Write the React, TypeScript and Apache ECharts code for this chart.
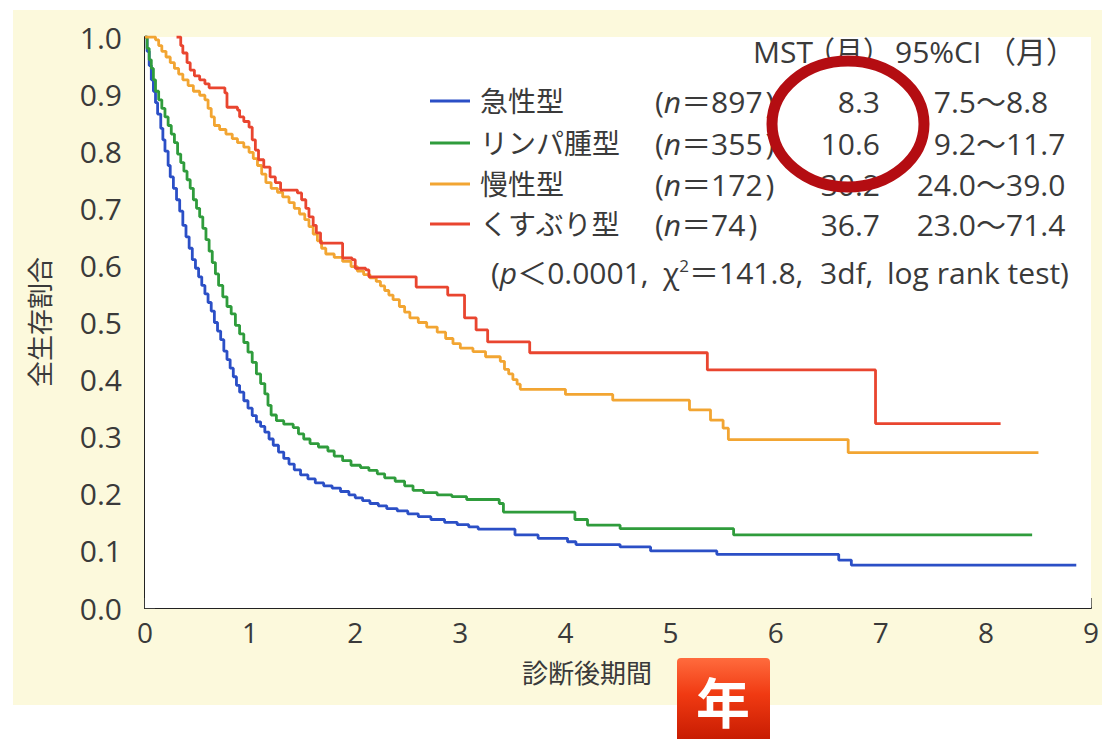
import React, { useEffect, useRef } from "react";
import * as echarts from "echarts";

// ---- data ----
const xTicks = [0, 1, 2, 3, 4, 5, 6, 7, 8, 9];
const yTicks = [0, 0.1, 0.2, 0.3, 0.4, 0.5, 0.6, 0.7, 0.8, 0.9, 1.0];

const groupNames = ["急性型", "リンパ腫型", "慢性型", "くすぶり型"];
const groupN = ["897", "355", "172", "74"];
const groupMST = ["8.3", "10.6", "30.2", "36.7"];
const ciLow = ["7.5", "9.2", "24.0", "23.0"];
const ciHigh = ["8.8", "11.7", "39.0", "71.4"];
const groupColors = ["#2b4fc6", "#2f9c3c", "#f2a532", "#e9452f"];

const headerParts = ["MST", "（月）", "95%CI", "（月）"];
const testParts = ["({i|p}＜0.0001,", "χ{s|2}＝141.8,", "3df,", "log rank test)"];

const acuteCurve: number[][] = [
  [0, 1], [0.02, 0.975], [0.04, 0.95], [0.06, 0.925], [0.08, 0.905], [0.1, 0.885], [0.12, 0.865],
  [0.15, 0.84], [0.17, 0.82], [0.19, 0.8], [0.22, 0.775], [0.24, 0.755], [0.27, 0.735], [0.3, 0.715],
  [0.33, 0.695], [0.36, 0.67], [0.39, 0.65], [0.42, 0.63], [0.45, 0.61], [0.48, 0.595], [0.51, 0.58],
  [0.54, 0.565], [0.57, 0.55], [0.6, 0.535], [0.63, 0.52], [0.66, 0.5], [0.69, 0.485], [0.72, 0.47],
  [0.75, 0.45], [0.78, 0.435], [0.81, 0.42], [0.84, 0.405], [0.87, 0.39], [0.9, 0.378], [0.94, 0.363],
  [0.98, 0.35], [1.02, 0.337], [1.06, 0.326], [1.1, 0.318], [1.14, 0.308], [1.18, 0.296], [1.22, 0.285],
  [1.27, 0.273], [1.32, 0.262], [1.37, 0.252], [1.42, 0.242], [1.48, 0.233], [1.55, 0.226], [1.62, 0.219],
  [1.7, 0.214], [1.78, 0.21], [1.86, 0.204], [1.94, 0.198], [2.0, 0.193], [2.07, 0.188], [2.14, 0.183],
  [2.22, 0.179], [2.3, 0.174], [2.4, 0.17], [2.5, 0.165], [2.6, 0.16], [2.72, 0.155], [2.85, 0.15],
  [2.97, 0.146], [3.08, 0.142], [3.17, 0.138], [3.52, 0.128], [3.74, 0.122], [4.02, 0.116], [4.1, 0.111],
  [4.52, 0.107], [4.81, 0.1], [5.44, 0.094], [6.6, 0.084], [6.72, 0.075], [8.86, 0.075],
];

const lymphomaCurve: number[][] = [
  [0, 1], [0.02, 0.98], [0.04, 0.96], [0.06, 0.945], [0.08, 0.925], [0.1, 0.905], [0.13, 0.89],
  [0.16, 0.875], [0.19, 0.86], [0.22, 0.845], [0.25, 0.83], [0.28, 0.815], [0.31, 0.795], [0.34, 0.78],
  [0.37, 0.765], [0.4, 0.75], [0.43, 0.735], [0.46, 0.715], [0.49, 0.7], [0.52, 0.685], [0.55, 0.665],
  [0.58, 0.645], [0.61, 0.625], [0.64, 0.605], [0.67, 0.585], [0.7, 0.565], [0.74, 0.545], [0.78, 0.528],
  [0.82, 0.515], [0.86, 0.495], [0.9, 0.48], [0.94, 0.465], [0.98, 0.448], [1.02, 0.43], [1.06, 0.41],
  [1.1, 0.393], [1.14, 0.375], [1.17, 0.355], [1.2, 0.338], [1.25, 0.328], [1.32, 0.322], [1.41, 0.316],
  [1.46, 0.305], [1.51, 0.296], [1.57, 0.288], [1.65, 0.282], [1.74, 0.275], [1.8, 0.266], [1.88, 0.258],
  [1.96, 0.25], [2.05, 0.246], [2.13, 0.241], [2.21, 0.235], [2.28, 0.228], [2.38, 0.222], [2.47, 0.214],
  [2.55, 0.206], [2.65, 0.202], [2.78, 0.198], [2.92, 0.195], [3.06, 0.19], [3.37, 0.183], [3.41, 0.168],
  [4.09, 0.155], [4.21, 0.145], [4.52, 0.139], [5.6, 0.128], [8.44, 0.128],
];

const chronicCurve: number[][] = [
  [0, 1], [0.1, 0.995], [0.13, 0.985], [0.16, 0.975], [0.2, 0.965], [0.24, 0.955], [0.28, 0.945],
  [0.32, 0.935], [0.36, 0.925], [0.41, 0.915], [0.46, 0.905], [0.52, 0.898], [0.57, 0.89], [0.6, 0.875],
  [0.63, 0.86], [0.66, 0.845], [0.71, 0.838], [0.77, 0.83], [0.83, 0.822], [0.88, 0.815], [0.94, 0.807],
  [0.99, 0.798], [1.03, 0.787], [1.07, 0.775], [1.11, 0.76], [1.15, 0.745], [1.2, 0.735], [1.26, 0.728],
  [1.31, 0.72], [1.37, 0.71], [1.42, 0.7], [1.47, 0.69], [1.52, 0.68], [1.56, 0.668], [1.6, 0.655],
  [1.64, 0.643], [1.68, 0.63], [1.72, 0.62], [1.8, 0.614], [1.88, 0.607], [1.96, 0.598], [2.02, 0.59],
  [2.08, 0.584], [2.14, 0.578], [2.2, 0.572], [2.24, 0.564], [2.28, 0.556], [2.32, 0.548], [2.36, 0.54],
  [2.42, 0.528], [2.47, 0.518], [2.52, 0.508], [2.6, 0.5], [2.68, 0.492], [2.78, 0.483], [2.86, 0.472],
  [2.93, 0.463], [3.0, 0.455], [3.12, 0.449], [3.24, 0.44], [3.38, 0.432], [3.42, 0.418], [3.46, 0.41],
  [3.5, 0.4], [3.54, 0.392], [3.57, 0.383], [4.0, 0.374], [4.45, 0.364], [5.18, 0.347], [5.38, 0.329],
  [5.5, 0.315], [5.55, 0.295], [6.69, 0.272], [8.5, 0.272],
];

const smolderingCurve: number[][] = [
  [0.3, 1], [0.34, 0.985], [0.36, 0.972], [0.4, 0.955], [0.43, 0.942], [0.47, 0.932], [0.52, 0.925],
  [0.57, 0.918], [0.61, 0.911], [0.76, 0.902], [0.78, 0.877], [0.88, 0.872], [0.9, 0.86], [0.94, 0.852],
  [0.99, 0.842], [1.02, 0.82], [1.05, 0.802], [1.08, 0.785], [1.13, 0.772], [1.19, 0.755], [1.24, 0.745],
  [1.29, 0.732], [1.45, 0.727], [1.49, 0.715], [1.53, 0.7], [1.56, 0.685], [1.6, 0.67], [1.63, 0.657],
  [1.67, 0.639], [1.88, 0.613], [1.97, 0.61], [2.0, 0.595], [2.1, 0.592], [2.13, 0.58], [2.58, 0.562],
  [2.88, 0.548], [3.04, 0.508], [3.15, 0.487], [3.26, 0.466], [3.66, 0.447], [5.35, 0.417], [6.95, 0.323],
  [8.14, 0.323],
];

const curves = [acuteCurve, lymphomaCurve, chronicCurve, smolderingCurve];

const FONT = "'Open Sans', 'Noto Sans CJK JP', sans-serif";
const TXT = "#3a3a3a";

export default function App() {
  const ref = useRef<HTMLDivElement>(null);

  useEffect(() => {
    if (!ref.current) return;
    const chart = echarts.init(ref.current, undefined, { renderer: "svg" });

    const txt = (x: number, y: number, text: string, size: number, align: string, extra: any = {}) => ({
      type: "text", x, y, z: 10,
      style: { text, fontSize: size, fontFamily: FONT, fill: TXT, align, verticalAlign: "middle", ...extra },
    });

    const rowY = [101, 143, 184, 224];
    const legendEls: any[] = [];
    groupNames.forEach((name, i) => {
      const y = rowY[i];
      legendEls.push({
        type: "line",
        shape: { x1: 430, y1: y, x2: 470, y2: y },
        style: { stroke: groupColors[i], lineWidth: 3 },
        z: 10,
      });
      legendEls.push(txt(480, y, name, 28, "left"));
      legendEls.push(
        txt(655, y, "({i|n}＝" + groupN[i] + "{p|)}", 30, "left", {
          rich: {
            i: { fontStyle: "italic", fontSize: 30, fontFamily: FONT, fill: TXT },
            p: { fontSize: 30, fontFamily: FONT, fill: TXT, padding: [0, 0, 0, 3] },
          },
        })
      );
      legendEls.push(txt(880, y, groupMST[i], 30, "right"));
      legendEls.push(txt(976, y, ciLow[i], 30, "right"));
      legendEls.push(txt(976, y, "～" + ciHigh[i], 30, "left"));
    });

    const headerX = [753, 807, 895, 986];
    const headerSize = [30, 28, 30, 30];
    const testX = [491, 663, 820, 887];
    const rich = {
      i: { fontStyle: "italic", fontSize: 30, fontFamily: FONT, fill: TXT },
      s: { fontSize: 17, fontFamily: FONT, fill: TXT, verticalAlign: "top" },
    };

    const option: any = {
      animation: false,
      backgroundColor: "#ffffff",
      grid: {
        left: 145, top: 37, width: 951, height: 571,
        show: true, backgroundColor: "#ffffff", borderWidth: 0, z: 1,
      },
      xAxis: {
        type: "value", min: 0, max: 9, interval: 1,
        axisLine: { show: true, onZero: false, lineStyle: { color: "#222", width: 2 } },
        axisTick: { show: true, inside: true, length: 10, lineStyle: { color: "#444", width: 1.5 } },
        axisLabel: {
          margin: 10, fontSize: 28, fontFamily: FONT, color: TXT,
          formatter: (v: number) => (xTicks.includes(v) ? String(v) : ""),
        },
        splitLine: { show: false },
      },
      yAxis: {
        type: "value", min: 0, max: 1, interval: 0.1,
        axisLine: { show: true, onZero: false, lineStyle: { color: "#222", width: 2 } },
        axisTick: { show: true, inside: true, length: 10, lineStyle: { color: "#444", width: 1.5 } },
        axisLabel: {
          margin: 23, fontSize: 30, fontFamily: FONT, color: TXT,
          formatter: (v: number) => {
            const t = yTicks.find((k) => Math.abs(k - v) < 1e-6);
            return t === undefined ? "" : t.toFixed(1);
          },
        },
        splitLine: { show: false },
      },
      series: curves.map((c, i) => ({
        type: "line",
        name: groupNames[i],
        step: "end",
        data: c,
        showSymbol: false,
        symbol: "none",
        clip: true,
        lineStyle: { color: groupColors[i], width: 2.8 },
        z: 5 + i,
      })),
      graphic: [
        {
          type: "rect", z: -10, silent: true,
          shape: { x: 13, y: 10, width: 1089, height: 695 },
          style: { fill: "#fcf9dc" },
        },
        {
          type: "text", x: 40, y: 322, rotation: Math.PI / 2, z: 10,
          style: { text: "全生存割合", fontSize: 26, fontFamily: FONT, fill: TXT, align: "center", verticalAlign: "middle" },
        },
        txt(587, 673, "診断後期間", 26, "center"),
        ...headerParts.map((h, k) => txt(headerX[k], 51, h, headerSize[k], "left")),
        ...legendEls,
        ...testParts.map((t, k) => txt(testX[k], 272, t, 30, "left", { rich })),
        {
          type: "ellipse", z: 20,
          shape: { cx: 848, cy: 124, rx: 76, ry: 63 },
          style: { fill: "none", stroke: "#b40d12", lineWidth: 11 },
        },
        {
          type: "rect", z: 20,
          shape: { x: 677, y: 658, width: 93, height: 81, r: [4, 4, 0, 0] },
          style: {
            fill: new echarts.graphic.LinearGradient(0, 0, 0, 1, [
              { offset: 0, color: "#ff6b3d" },
              { offset: 0.45, color: "#f03a12" },
              { offset: 1, color: "#c81c02" },
            ]),
          },
        },
        {
          type: "text", x: 723, y: 700, z: 21,
          style: {
            text: "年", fontSize: 54, fontWeight: "bold", fontFamily: "'Noto Sans CJK JP', sans-serif",
            fill: "#ffffff", align: "center", verticalAlign: "middle",
          },
        },
      ],
    };

    chart.setOption(option);
    return () => chart.dispose();
  }, []);

  return (
    <div
      ref={ref}
      style={{ position: "fixed", left: 0, top: 0, width: 1102, height: 739, background: "#ffffff" }}
    />
  );
}
